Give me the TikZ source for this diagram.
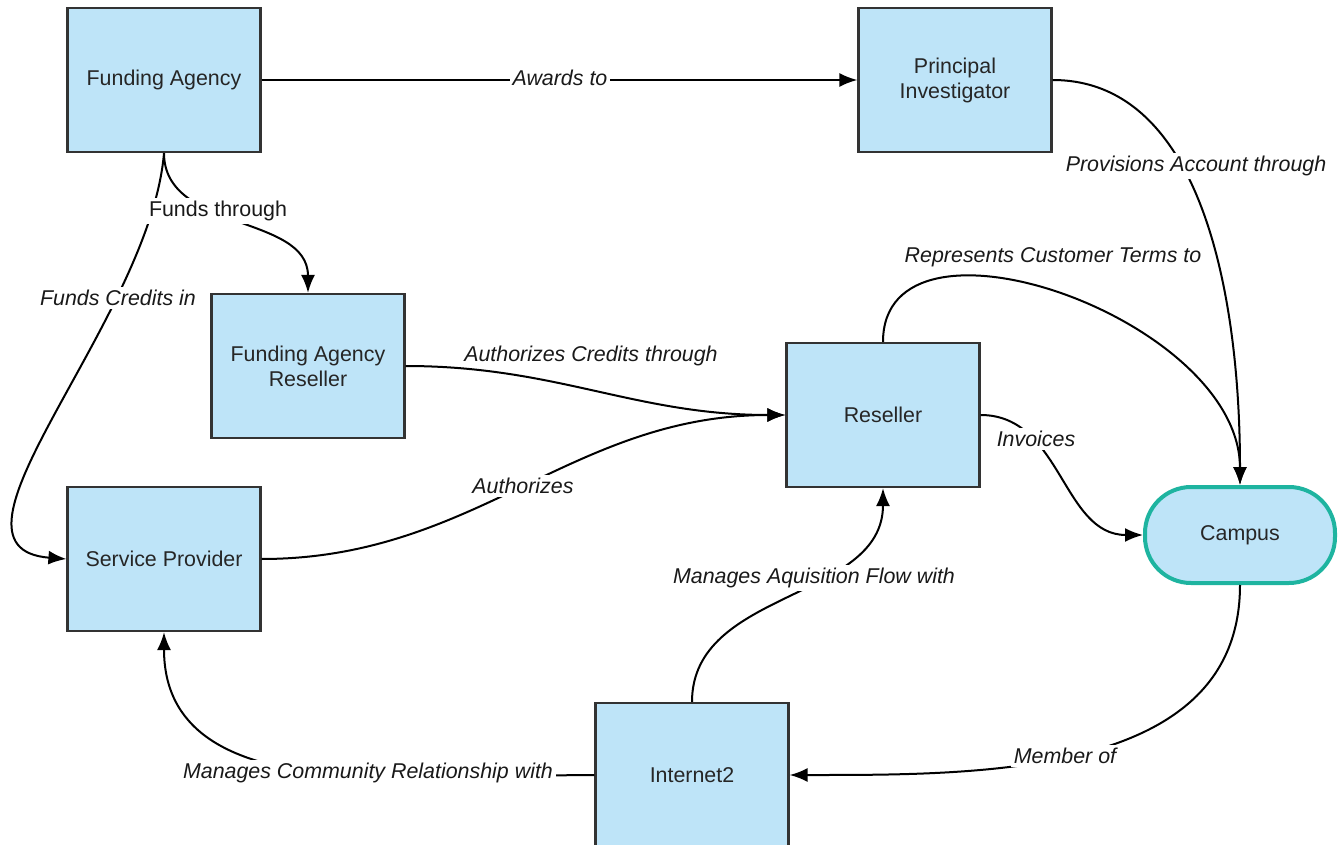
\documentclass[tikz,border=0pt]{standalone}
\usepackage{fontspec}
\setmainfont{Liberation Sans}
\usetikzlibrary{arrows.meta}
\definecolor{boxblue}{RGB}{190,228,248}
\definecolor{boxline}{RGB}{51,51,51}
\definecolor{campusteal}{RGB}{30,180,160}

\begin{document}
\begin{tikzpicture}[x=0.5pt,y=-0.5pt,
  entity/.style={draw=boxline,line width=1.1pt,fill=boxblue,minimum width=96.5pt,minimum height=72pt,
    inner sep=0pt,align=center,text=black!85,font=\fontsize{10.7}{12.5}\selectfont},
  rel/.style={line width=1pt,-{Latex[length=9pt,width=7pt]}},
  lbl/.style={fill=white,inner sep=1.5pt,text=black!90,font=\fontsize{10.7}{12.5}\selectfont\itshape}]
  \useasboundingbox (0,0) rectangle (1339,845);

  \node[entity] (FA) at (164,80) {Funding Agency};
  \node[entity] (PI) at (955,80) {Principal\\Investigator};
  \node[entity] (FAR) at (308,366) {Funding Agency\\Reseller};
  \node[entity] (Res) at (883,415) {Reseller};
  \node[entity] (SP) at (164,559) {Service Provider};
  \node[entity] (I2) at (692,775) {Internet2};
  \node[entity,draw=campusteal,line width=2pt,minimum width=95pt,minimum height=48pt,rounded corners=23pt] (Campus) at (1240,535) {Campus};

  \draw[rel] (FA.east) -- (PI.west);
  \draw[rel] (FA.south) .. controls +(0,79) and +(0,-79) .. (FAR.north);
  \draw[rel] (FA.south) .. controls +(-14,168) and +(-143,-11) .. (SP.west);
  \draw[rel] (PI.east) .. controls +(150,0) and +(0,-187) .. (Campus.north);
  \draw[rel] (Res.north) .. controls +(0,-148) and +(0,-167) .. (Campus.north);
  \draw[rel] (FAR.east) .. controls +(151,0) and +(-151,0) .. (Res.west);
  \draw[rel] (SP.east) .. controls +(214,0) and +(-214,0) .. (Res.west);
  \draw[rel] (Res.east) .. controls +(81,0) and +(-81,0) .. (Campus.west);
  \draw[rel] (I2.north) .. controls +(0,-113) and +(0,113) .. (Res.south);
  \draw[rel] (I2.west) .. controls +(-178,0) and +(0,178) .. (SP.south);
  \draw[rel] (Campus.south) .. controls +(0,192) and +(192,0) .. (I2.east);

  \node[lbl] (awards) at (560,78) {Awards to};
  \node[lbl,font=\fontsize{10.7}{12.5}\selectfont] (fthrough) at (218,211) {Funds through};
  \node[lbl] (fcredits) at (118,298) {Funds Credits in};
  \node[lbl] (provisions) at (1196,166) {Provisions Account through};
  \node[lbl,fill=none] (represents) at (1053,257) {Represents Customer Terms to};
  \node[lbl,fill=none] (authcredits) at (591,356) {Authorizes Credits through};
  \node[lbl] (authorizes) at (523,486) {Authorizes};
  \node[lbl] (invoices) at (1036,439) {Invoices};
  \node[lbl] (aquisition) at (814,578) {Manages Aquisition Flow with};
  \node[lbl] (community) at (368,773) {Manages Community Relationship with};
  \node[lbl] (member) at (1065,756) {Member of};
\end{tikzpicture}
\end{document}
